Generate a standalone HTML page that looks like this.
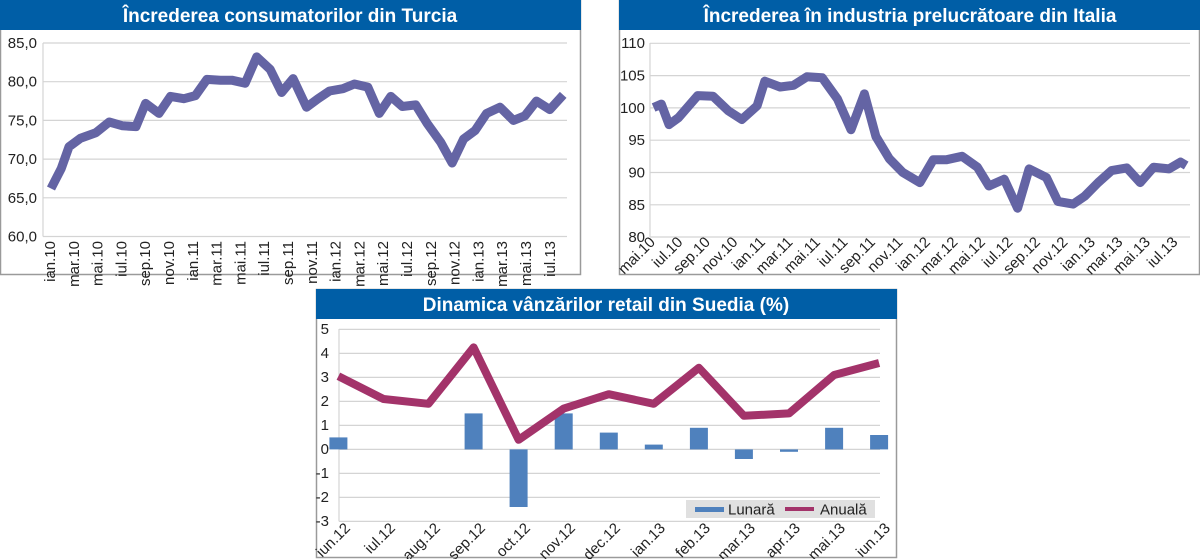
<!DOCTYPE html>
<html><head><meta charset="utf-8"><style>
html,body{margin:0;padding:0;background:#fff;width:1200px;height:559px;overflow:hidden}
svg{display:block}
.t{font-family:"Liberation Sans Narrow","Liberation Sans",sans-serif;font-weight:bold;fill:#fff;font-size:19px}
.a{font-family:"Liberation Sans Narrow","Liberation Sans",sans-serif;fill:#222;font-size:15px}
.g{stroke:#d4d4d4;stroke-width:1.2}
</style></head><body>
<svg width="1200" height="559" viewBox="0 0 1200 559" xmlns="http://www.w3.org/2000/svg">
<!-- Chart 1 -->
<rect x="0.5" y="0.5" width="580" height="274" fill="#fff" stroke="#9a9a9a" stroke-width="1.5"/>
<rect x="0" y="0" width="581" height="30" fill="#005ea6"/>
<text class="t" x="290" y="22" text-anchor="middle">Încrederea consumatorilor din Turcia</text>
<g class="g">
<line x1="43" y1="43" x2="567" y2="43"/><line x1="43" y1="81.7" x2="567" y2="81.7"/><line x1="43" y1="120.4" x2="567" y2="120.4"/><line x1="43" y1="159.1" x2="567" y2="159.1"/><line x1="43" y1="197.8" x2="567" y2="197.8"/><line x1="43" y1="236.5" x2="567" y2="236.5"/>
<line x1="43" y1="43" x2="43" y2="236.5"/>
</g>
<g class="a" text-anchor="end">
<text x="37" y="48">85,0</text><text x="37" y="86.7">80,0</text><text x="37" y="125.4">75,0</text><text x="37" y="164.1">70,0</text><text x="37" y="202.8">65,0</text><text x="37" y="241.5">60,0</text>
</g>
<polyline fill="none" stroke="#6464a4" stroke-width="9" stroke-linejoin="round" points="51,188.5 61.3,168.4 69,146.7 80.5,138.2 95.8,132.8 109.2,122 122.6,125.8 136,126.6 145.6,103.4 159,113.4 170.5,96.4 183.9,98.7 195.4,95.6 206.9,79.4 220.3,80.2 231.8,80.2 245.2,83.2 256.7,56.9 270.1,69.3 281.6,92.5 293.1,78.6 306.5,107.2 318,98.7 329.5,91 342.9,88.7 354.4,84 367.8,87.1 379.3,113.4 390.8,96.4 402.3,106.5 415.7,104.9 427.2,123.5 440.6,142.1 452.1,163 463.6,139 475.1,130.5 486.6,113.4 500,107.2 513.4,120.4 524.9,115.8 536.4,101.1 549.8,109.6 563.2,94.9"/>
<g class="a" font-size="14" text-anchor="end">
<text transform="translate(55,241) rotate(-90)">ian.10</text>
<text transform="translate(78.8,241) rotate(-90)">mar.10</text>
<text transform="translate(102.6,241) rotate(-90)">mai.10</text>
<text transform="translate(126.4,241) rotate(-90)">iul.10</text>
<text transform="translate(150.2,241) rotate(-90)">sep.10</text>
<text transform="translate(174,241) rotate(-90)">nov.10</text>
<text transform="translate(197.8,241) rotate(-90)">ian.11</text>
<text transform="translate(221.6,241) rotate(-90)">mar.11</text>
<text transform="translate(245.4,241) rotate(-90)">mai.11</text>
<text transform="translate(269.2,241) rotate(-90)">iul.11</text>
<text transform="translate(293,241) rotate(-90)">sep.11</text>
<text transform="translate(316.8,241) rotate(-90)">nov.11</text>
<text transform="translate(340.6,241) rotate(-90)">ian.12</text>
<text transform="translate(364.4,241) rotate(-90)">mar.12</text>
<text transform="translate(388.2,241) rotate(-90)">mai.12</text>
<text transform="translate(412,241) rotate(-90)">iul.12</text>
<text transform="translate(435.8,241) rotate(-90)">sep.12</text>
<text transform="translate(459.6,241) rotate(-90)">nov.12</text>
<text transform="translate(483.4,241) rotate(-90)">ian.13</text>
<text transform="translate(507.2,241) rotate(-90)">mar.13</text>
<text transform="translate(531,241) rotate(-90)">mai.13</text>
<text transform="translate(554.8,241) rotate(-90)">iul.13</text>
</g>

<!-- Chart 2 -->
<rect x="619.5" y="0.5" width="580" height="274" fill="#fff" stroke="#9a9a9a" stroke-width="1.5"/>
<rect x="619" y="0" width="581" height="30" fill="#005ea6"/>
<text class="t" x="910" y="22" text-anchor="middle">Încrederea în industria prelucrătoare din Italia</text>
<g class="g">
<line x1="650" y1="43.3" x2="1190" y2="43.3"/><line x1="650" y1="75.6" x2="1190" y2="75.6"/><line x1="650" y1="107.9" x2="1190" y2="107.9"/><line x1="650" y1="140.2" x2="1190" y2="140.2"/><line x1="650" y1="172.5" x2="1190" y2="172.5"/><line x1="650" y1="204.8" x2="1190" y2="204.8"/><line x1="650" y1="237" x2="1190" y2="237"/>
<line x1="650" y1="43" x2="650" y2="237"/>
</g>
<g class="a" text-anchor="end">
<text x="645" y="48">110</text><text x="645" y="80.6">105</text><text x="645" y="112.9">100</text><text x="645" y="145.2">95</text><text x="645" y="177.5">90</text><text x="645" y="209.8">85</text><text x="645" y="242">80</text>
</g>
<polyline fill="none" stroke="#6464a4" stroke-width="9" stroke-linejoin="round" points="653.6,107.5 661.3,104.1 669,124.6 678.5,117.7 697.7,95.6 713,96.2 728.4,110.9 741.8,119.5 757.1,105.8 764.8,81.2 780.1,87 793.5,85.3 806.9,76.8 822.2,77.8 837.5,99 851,129.7 864.4,93.9 875.9,136.5 889.3,158.7 902.7,172.4 919.9,182.6 933.3,159.7 946.7,159.7 962.1,156.3 977.4,167.2 988.9,186 1004.2,179.2 1017.6,208.2 1029.1,168.9 1046.4,177.5 1057.9,201.4 1073.2,204.1 1084.7,196.2 1098.1,182.6 1111.5,170.6 1126.8,167.9 1140.2,182.6 1153.6,167.2 1169,168.9 1180.5,162.1 1186.2,165.5"/>
<g class="a" font-size="13" text-anchor="end">
<text transform="translate(656,243) rotate(-45)">mai.10</text>
<text transform="translate(683.5,243) rotate(-45)">iul.10</text>
<text transform="translate(711,243) rotate(-45)">sep.10</text>
<text transform="translate(738.5,243) rotate(-45)">nov.10</text>
<text transform="translate(766,243) rotate(-45)">ian.11</text>
<text transform="translate(793.5,243) rotate(-45)">mar.11</text>
<text transform="translate(821,243) rotate(-45)">mai.11</text>
<text transform="translate(848.5,243) rotate(-45)">iul.11</text>
<text transform="translate(876,243) rotate(-45)">sep.11</text>
<text transform="translate(903.5,243) rotate(-45)">nov.11</text>
<text transform="translate(931,243) rotate(-45)">ian.12</text>
<text transform="translate(958.5,243) rotate(-45)">mar.12</text>
<text transform="translate(986,243) rotate(-45)">mai.12</text>
<text transform="translate(1013.5,243) rotate(-45)">iul.12</text>
<text transform="translate(1041,243) rotate(-45)">sep.12</text>
<text transform="translate(1068.5,243) rotate(-45)">nov.12</text>
<text transform="translate(1096,243) rotate(-45)">ian.13</text>
<text transform="translate(1123.5,243) rotate(-45)">mar.13</text>
<text transform="translate(1151,243) rotate(-45)">mai.13</text>
<text transform="translate(1178.5,243) rotate(-45)">iul.13</text>
</g>

<!-- Chart 3 -->
<rect x="316.5" y="289.5" width="580" height="268" fill="#fff" stroke="#9a9a9a" stroke-width="1.5"/>
<rect x="316" y="289" width="581" height="30" fill="#005ea6"/>
<text class="t" x="606" y="311" text-anchor="middle">Dinamica vânzărilor retail din Suedia (%)</text>
<g class="g">
<line x1="339" y1="329.4" x2="880" y2="329.4"/><line x1="339" y1="353.4" x2="880" y2="353.4"/><line x1="339" y1="377.4" x2="880" y2="377.4"/><line x1="339" y1="401.4" x2="880" y2="401.4"/><line x1="339" y1="425.4" x2="880" y2="425.4"/><line x1="339" y1="449.4" x2="880" y2="449.4"/><line x1="339" y1="473.4" x2="880" y2="473.4"/><line x1="339" y1="497.4" x2="880" y2="497.4"/><line x1="339" y1="521.4" x2="880" y2="521.4"/>
<line x1="339" y1="329" x2="339" y2="521.4"/>
</g>
<g class="a" text-anchor="end">
<text x="329" y="334">5</text><text x="329" y="358">4</text><text x="329" y="382">3</text><text x="329" y="406">2</text><text x="329" y="430">1</text><text x="329" y="454">0</text><text x="329" y="478">-1</text><text x="329" y="502">-2</text><text x="329" y="526">-3</text>
</g>
<g fill="#4f81bd">
<rect x="329.4" y="437.4" width="18" height="12"/>
<rect x="464.6" y="413.4" width="18" height="36"/>
<rect x="509.6" y="449.4" width="18" height="57.6"/>
<rect x="554.7" y="413.4" width="18" height="36"/>
<rect x="599.8" y="432.6" width="18" height="16.8"/>
<rect x="644.8" y="444.6" width="18" height="4.8"/>
<rect x="689.9" y="427.8" width="18" height="21.6"/>
<rect x="734.9" y="449.4" width="18" height="9.6"/>
<rect x="780" y="449.4" width="18" height="2.4"/>
<rect x="825.1" y="427.8" width="18" height="21.6"/>
<rect x="870.1" y="435" width="18" height="14.4"/>
</g>
<polyline fill="none" stroke="#a3336a" stroke-width="8" stroke-linejoin="round" points="338.4,376.2 383.5,399 428.5,403.8 473.6,347.4 518.6,439.8 563.7,408.6 608.8,394.2 653.8,403.8 698.9,367.8 743.9,415.8 789,413.4 834.1,375 879.1,363"/>
<rect x="686" y="500" width="189" height="18" fill="#e0e0e0"/>
<rect x="695" y="507" width="29" height="5" fill="#4f81bd"/>
<text class="a" x="728" y="514.5" font-size="15" style="font-family:'Liberation Sans',sans-serif">Lunară</text>
<rect x="785" y="507" width="29" height="4" fill="#a3336a"/>
<text class="a" x="820" y="514.5" font-size="15" style="font-family:'Liberation Sans',sans-serif">Anuală</text>
<g class="a" font-size="14" text-anchor="end">
<text transform="translate(351,529) rotate(-45)">iun.12</text>
<text transform="translate(396,529) rotate(-45)">iul.12</text>
<text transform="translate(441,529) rotate(-45)">aug.12</text>
<text transform="translate(486,529) rotate(-45)">sep.12</text>
<text transform="translate(531,529) rotate(-45)">oct.12</text>
<text transform="translate(576,529) rotate(-45)">nov.12</text>
<text transform="translate(621,529) rotate(-45)">dec.12</text>
<text transform="translate(666,529) rotate(-45)">ian.13</text>
<text transform="translate(711,529) rotate(-45)">feb.13</text>
<text transform="translate(756,529) rotate(-45)">mar.13</text>
<text transform="translate(801,529) rotate(-45)">apr.13</text>
<text transform="translate(846,529) rotate(-45)">mai.13</text>
<text transform="translate(891,529) rotate(-45)">iun.13</text>
</g>
</svg>
</body></html>
